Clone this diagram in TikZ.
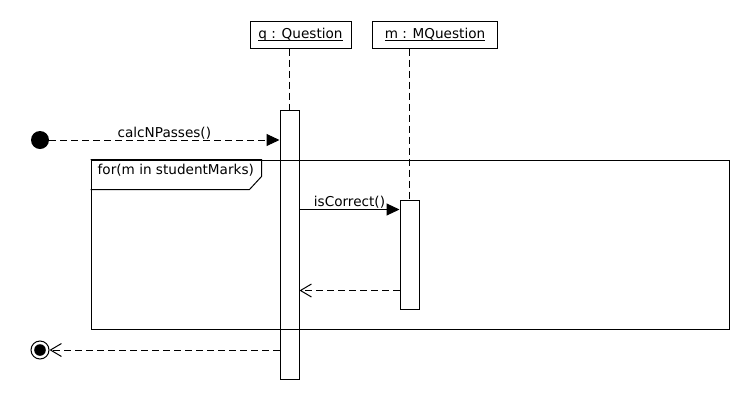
\documentclass[tikz,border=0pt]{standalone}
\usepackage{fontspec}
\setmainfont{DejaVu Sans}
\usetikzlibrary{calc,arrows.meta,positioning}
\newcommand{\objname}[1]{\setbox0\hbox{#1}\rlap{\rule[-3pt]{\wd0}{0.7pt}}\box0}
\tikzset{
    object/.style={
    rectangle,draw=black,line width=1pt,inner sep=0pt,text height=9.9pt,text depth=2.9pt
    },
    activation/.style={
    rectangle,draw=black,line width=1pt,minimum width=19pt,inner sep=0pt
    },
    lifeline/.style={
    line width=1pt,dash pattern=on 7pt off 4pt
    },
    call/.style={
    line width=1pt,-{Triangle[length=13pt,width=12pt]}
    },
    dcall/.style={
    call,dash pattern=on 7pt off 4pt
    },
    reply/.style={
    line width=1pt,dash pattern=on 7pt off 4pt,
    -{Straight Barb[length=11pt,width=13pt,line width=1pt]}
    },
    msg/.style={
    anchor=base,inner sep=0pt,yshift=3pt
    },
    fragment/.style={
    rectangle,draw=black,line width=1pt,inner sep=0pt
    },
    guard/.style={
    inner sep=0pt
    },
    startdot/.style={
    circle,fill=black,minimum size=18pt,inner sep=0pt
    },
    enddot/.style={
    circle,draw=black,line width=1pt,minimum size=18pt,inner sep=0pt,
    path picture={\fill[black] (path picture bounding box.center) circle (5.8pt);}
    },
}
\begin{document}
\begin{tikzpicture}[x=1pt, y=-1pt, font=\fontsize{13.6}{16}\selectfont]
  \useasboundingbox (0,0) rectangle (750,400);
  \node[object,minimum width=101pt,minimum height=27pt] (q) at (300.5,34.5) {\objname{q : Question}};
  \node[object,minimum width=125pt,minimum height=27pt] (m) at (435,34.5) {\objname{m : MQuestion}};
  \node[activation,minimum height=269pt] (qbar) at (289.5,244.5) {};
  \node[activation,minimum height=109pt] (mbar) at (409.5,254.5) {};
  \node[startdot] (start) at (40,140) {};
  \node[enddot] (stop) at (40,350) {};
  \node[fragment,minimum width=638pt,minimum height=169pt] (loop) at (410,244.5) {};
  \node[guard,anchor=base west] (guardtxt) at ($(loop.north west)+(7,15)$) {for(m in studentMarks)};

  % lifelines
  \draw[lifeline] (q.south -| qbar) -- (qbar.north);
  \draw[lifeline] (m.south -| mbar) -- (mbar.north);
  % fragment tab
  \draw[line width=1pt] (loop.north west) -- ++(171,0) -- ++(0,17) -- ++(-12,13) -- ++(-159,0);

  \path
    (start) edge [dcall] node[msg] {calcNPasses()} (start -| qbar.west)
    ($(qbar.east |- mbar.north)+(0,10)$) edge [call] node[msg] {isCorrect()} ($(mbar.north west)+(0,10)$)
    ($(mbar.south west)+(0,-19)$) edge [reply] ($(qbar.east |- mbar.south)+(0,-19)$)
    (qbar.west |- stop) edge [reply] (stop);
\end{tikzpicture}
\end{document}
